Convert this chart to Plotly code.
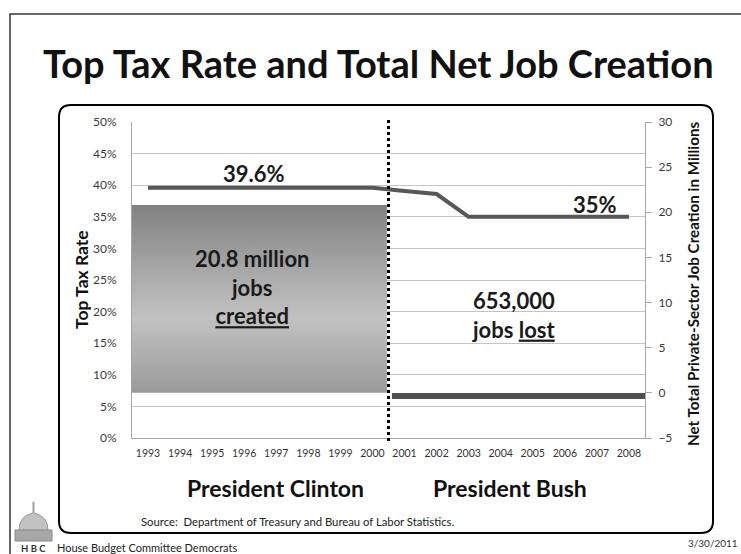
import plotly.graph_objects as go

# ---------------- data ----------------
years = list(range(1993, 2009))
year_labels = [str(y) for y in years]
top_tax_rate = [39.6, 39.6, 39.6, 39.6, 39.6, 39.6, 39.6, 39.6,
                39.1, 38.6, 35.0, 35.0, 35.0, 35.0, 35.0, 35.0]
presidents = ["President Clinton", "President Bush"]
term_start = [1993, 2001]
term_end = [2000, 2008]
net_jobs_millions = [20.8, -0.653]
rate_labels = ["39.6%", "35%"]
job_labels = ["20.8 million<br>jobs<br><u>created</u>", "653,000<br>jobs <u>lost</u>"]

FONT = "Lato"
W, H = 741, 554
L, R, T, B = 132, 96, 122, 116
PW, PH = W - L - R, H - T - B


def px(x):
    return (x - L) / PW


def py(y):
    return (H - B - y) / PH


xi = [y - years[0] for y in years]

fig = go.Figure()

# Clinton bar (gradient fill) built from data
s0 = term_start[0] - years[0] - 0.5
e0 = term_end[0] - years[0] + 0.5
fig.add_trace(go.Scatter(
    x=[s0, e0 - 0.05, e0 - 0.05, s0, s0],
    y=[0, 0, net_jobs_millions[0], net_jobs_millions[0], 0],
    yaxis="y2", mode="lines", fill="toself",
    line=dict(width=0, color="#8a8a8a"),
    fillgradient=dict(type="vertical",
                      colorscale=[[0, "#9a9a9a"], [0.4, "#c2c2c2"], [1, "#828282"]]),
    hoverinfo="skip", showlegend=False,
))
# Bush bar
s1 = term_start[1] - years[0] - 0.5
e1 = term_end[1] - years[0] + 0.5
fig.add_trace(go.Bar(
    x=[(s1 + e1) / 2 + 0.05], y=[net_jobs_millions[1]], width=[e1 - s1 - 0.1],
    yaxis="y2", marker=dict(color="#4f4f4f", line=dict(width=0)),
    showlegend=False,
))
# Tax rate line
fig.add_trace(go.Scatter(
    x=xi, y=top_tax_rate, mode="lines",
    line=dict(color="#575757", width=4),
    showlegend=False,
))

tick_font = dict(family=FONT, size=12, color="#3a3a3a")
fig.update_layout(
    width=W, height=H,
    margin=dict(l=L, r=R, t=T, b=B),
    paper_bgcolor="white", plot_bgcolor="white",
    font=dict(family=FONT),
    xaxis=dict(range=[-0.5, 15.5], tickvals=xi, ticktext=year_labels,
               showgrid=False, zeroline=False, showline=True, linecolor="#a6a6a6",
               ticks="", tickfont=dict(family=FONT, size=10.5, color="#333333"),
               ticklabelstandoff=5),
    yaxis=dict(range=[0, 50], dtick=5, ticksuffix="%", showgrid=True,
               gridcolor="#c4c4c4", gridwidth=1, zeroline=False, showline=True,
               linecolor="#a6a6a6", ticks="", tickfont=tick_font,
               ticklabelstandoff=12),
    yaxis2=dict(range=[-5, 30], dtick=5, overlaying="y", side="right",
                showgrid=False, zeroline=False, showline=True, linecolor="#a6a6a6",
                ticks="outside", ticklen=6, tickcolor="#a6a6a6", tickfont=tick_font,
                ticklabelstandoff=4),
    bargap=0,
)


def A(text, x, y, size, xref="paper", yref="paper", xanchor="center", color="#111111",
      angle=0, bold=False):
    return dict(text=("<b>" + text + "</b>") if bold else text, x=x, y=y, xref=xref, yref=yref,
                xanchor=xanchor, yanchor="middle", textangle=angle, showarrow=False,
                align="center", font=dict(family=FONT, size=size, color=color))


ann = [
    A("Top Tax Rate and Total Net Job Creation", px(378), py(63), 38, bold=True),
    A(rate_labels[0], 3.3, 41.9, 22, xref="x", yref="y", color="#1a1a1a", bold=True),
    A(rate_labels[1], 13.95, 36.9, 22, xref="x", yref="y", color="#1a1a1a", bold=True),
    A(job_labels[0], 3.25, py(287), 22, xref="x", color="#1a1a1a", bold=True),
    A(job_labels[1], 11.4, py(315), 22, xref="x", color="#1a1a1a", bold=True),
    A(presidents[0], px(275), py(488), 23, bold=True),
    A(presidents[1], px(510), py(488), 23, bold=True),
    A("Top Tax Rate", px(81), py(280), 17.5, angle=-90, bold=True),
    A("Net Total Private-Sector Job Creation in Millions", px(693), py(284), 15.2,
      angle=-90, bold=True),
    A("Source:  Department of Treasury and Bureau of Labor Statistics.", px(139), py(521), 11.3,
      xanchor="left", color="#222222"),
    A("House Budget Committee Democrats", px(55), py(547), 11, xanchor="left", color="#222222"),
    A("H B C", px(19), py(548), 9.5, xanchor="left", color="#333333", bold=True),
    A("3/30/2011", px(740), py(543), 10, xanchor="right", color="#333333"),
]
fig.update_layout(annotations=ann)

divider_x = (term_end[0] + term_start[1]) / 2 - years[0]


def rounded_path(x0, y0, x1, y1, r):
    pts = [
        f"M {px(x0 + r)} {py(y0)}", f"L {px(x1 - r)} {py(y0)}",
        f"Q {px(x1)} {py(y0)} {px(x1)} {py(y0 + r)}",
        f"L {px(x1)} {py(y1 - r)}",
        f"Q {px(x1)} {py(y1)} {px(x1 - r)} {py(y1)}",
        f"L {px(x0 + r)} {py(y1)}",
        f"Q {px(x0)} {py(y1)} {px(x0)} {py(y1 - r)}",
        f"L {px(x0)} {py(y0 + r)}",
        f"Q {px(x0)} {py(y0)} {px(x0 + r)} {py(y0)} Z",
    ]
    return " ".join(pts)


shapes = [
    dict(type="line", xref="x", yref="paper", x0=divider_x, x1=divider_x,
         y0=py(441), y1=py(118), line=dict(color="black", width=3, dash="dot")),
    dict(type="path", xref="paper", yref="paper", path=rounded_path(59, 105, 713, 533, 12),
         line=dict(color="black", width=2)),
    dict(type="path", xref="paper", yref="paper",
         path=f"M {px(10)} {py(560)} L {px(10)} {py(14)} L {px(745)} {py(14)}",
         line=dict(color="#333333", width=1.5)),
    # capitol dome
    dict(type="path", xref="paper", yref="paper",
         path=(f"M {px(19)} {py(530)} Q {px(19)} {py(516)} {px(33)} {py(513)} "
               f"L {px(33)} {py(502)} L {px(34)} {py(502)} L {px(34)} {py(513)} "
               f"Q {px(48)} {py(516)} {px(48)} {py(530)} Z"),
         fillcolor="#c2c2c2", line=dict(color="#9a9a9a", width=1)),
    # capitol base
    dict(type="rect", xref="paper", yref="paper",
         x0=px(15), x1=px(52), y0=py(541), y1=py(530),
         fillcolor="#a8a8a8", line=dict(color="#8a8a8a", width=1)),
]
fig.update_layout(shapes=shapes)

fig.write_html("out.html", config={"displayModeBar": False},
               post_script="document.body.style.margin='0';document.body.style.padding='0';")
